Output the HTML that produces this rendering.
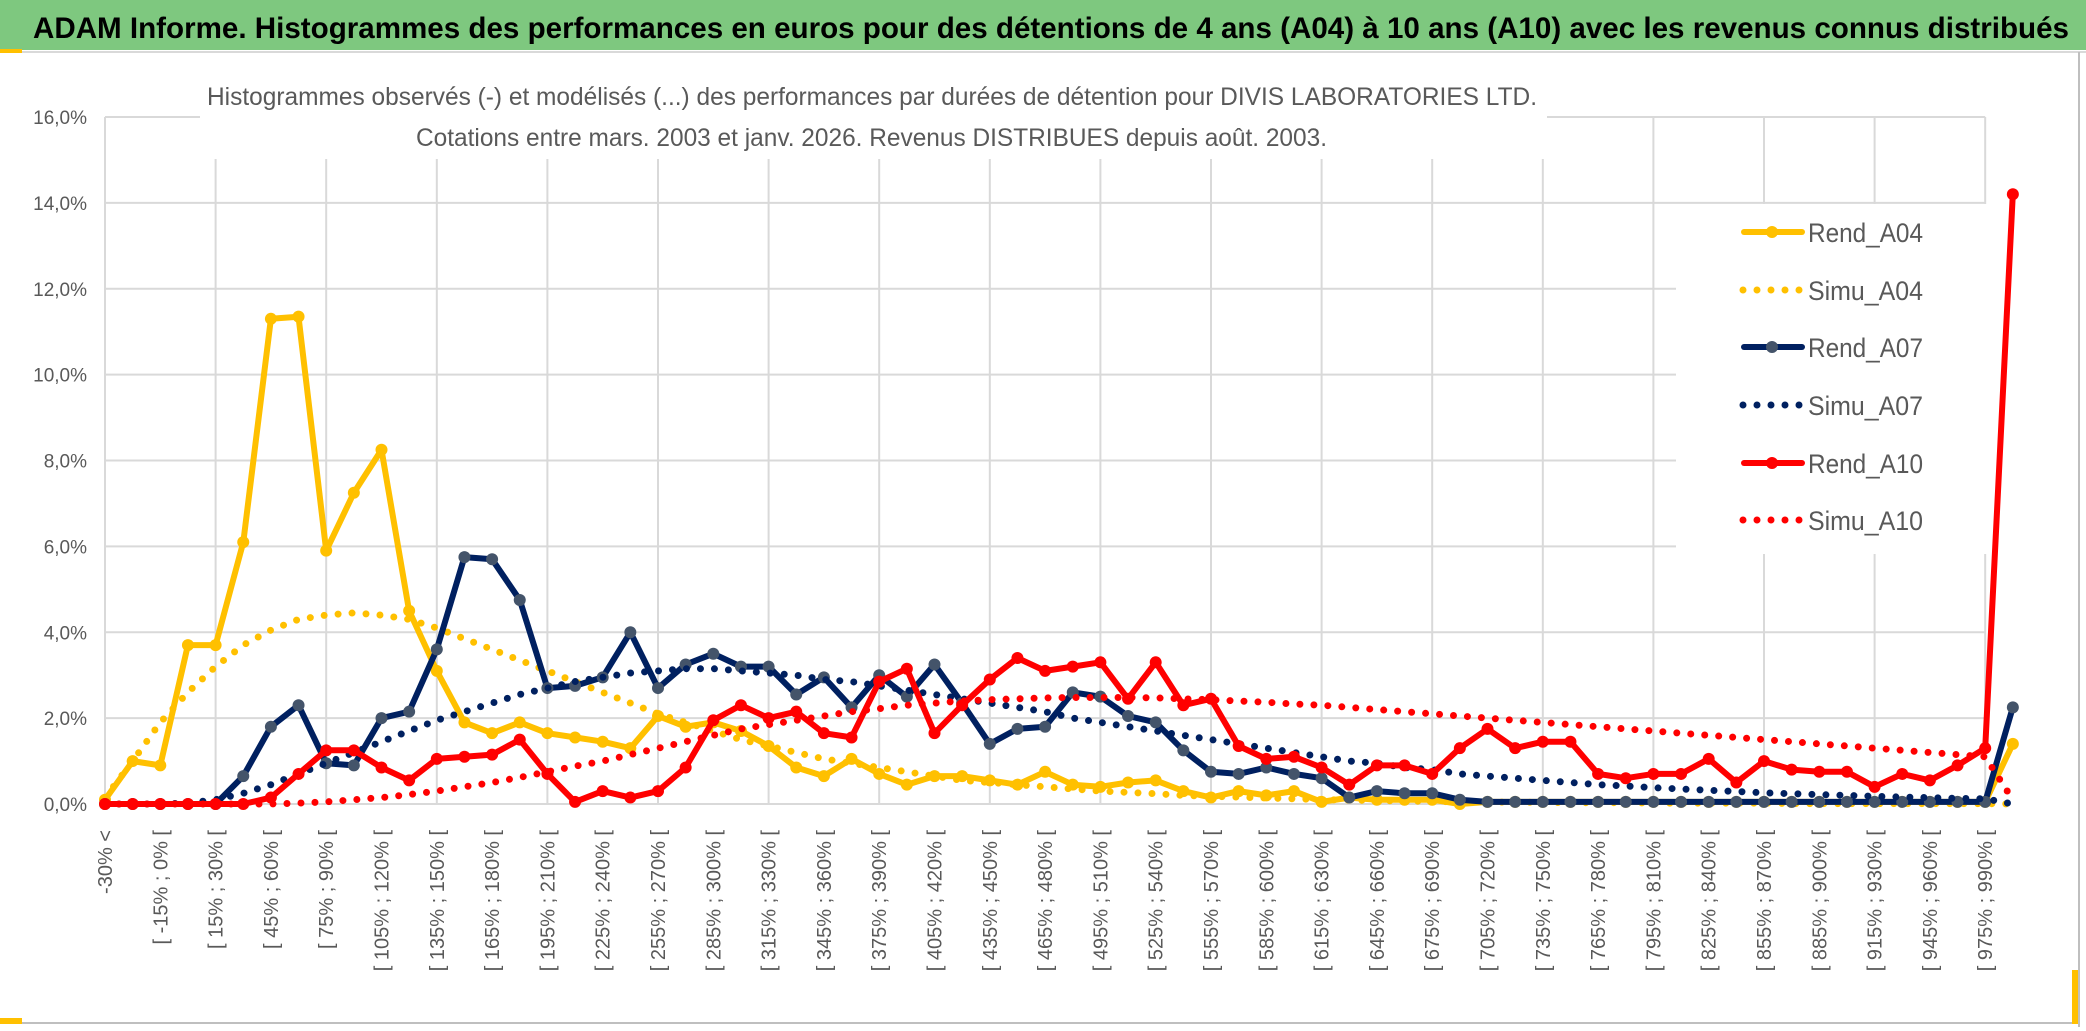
<!DOCTYPE html>
<html><head><meta charset="utf-8">
<style>
html,body{margin:0;padding:0;background:#fff;}
svg{display:block;font-family:"Liberation Sans",sans-serif;}
</style></head>
<body>
<svg id="chart" width="2086" height="1031" viewBox="0 0 2086 1031" xmlns="http://www.w3.org/2000/svg">
  <rect x="0" y="0" width="2086" height="1031" fill="#fff"/>
  <rect x="0" y="0" width="2086" height="50" fill="#7ec87f"/>
  <line x1="0" y1="52" x2="2086" y2="52" stroke="#d9d9d9" stroke-width="2"/>
  <rect x="0" y="49" width="22" height="4" fill="#ffc000"/>
  <text x="33" y="38" font-size="30" font-weight="bold" fill="#000" textLength="2036" lengthAdjust="spacingAndGlyphs">ADAM Informe. Histogrammes des performances en euros pour des détentions de 4 ans (A04) à 10 ans (A10) avec les revenus connus distribués</text>
  <rect x="2078" y="52" width="2" height="975" fill="#bfbfbf"/>
  <rect x="0" y="1022" width="2080" height="2" fill="#bfbfbf"/>
  <rect x="0" y="1018" width="22" height="6" fill="#ffc000"/>
  <rect x="2072" y="970" width="6" height="54" fill="#ffc000"/>
  <g id="grid"></g>
  <rect x="200" y="60" width="1347" height="99" fill="#fff"/>
  <text x="207" y="105" font-size="25" fill="#595959" textLength="1330" lengthAdjust="spacingAndGlyphs">Histogrammes observés (-) et modélisés (...) des performances par durées de détention pour DIVIS LABORATORIES LTD.</text>
  <text x="416" y="146" font-size="25" fill="#595959" textLength="911" lengthAdjust="spacingAndGlyphs">Cotations entre mars. 2003 et janv. 2026. Revenus DISTRIBUES depuis août. 2003.</text>
  <g id="yticks"></g>
  <g id="xticks"></g>
  <rect x="1676" y="204" width="312" height="350" fill="#fff"/>
  <g id="series"></g>
  <g id="legend"></g>
</svg>
<script>
const categories = ["-30% <","[ -30% ; -15% [","[ -15% ; 0% ["];
for (let v = 0; v <= 975; v += 15) categories.push("[ " + v + "% ; " + (v + 15) + "% [");
categories.push("990% >");
const yTicks = [0,2,4,6,8,10,12,14,16];
const yTickLabels = ["0,0%","2,0%","4,0%","6,0%","8,0%","10,0%","12,0%","14,0%","16,0%"];
const seriesNames = ["Rend_A04","Simu_A04","Rend_A07","Simu_A07","Rend_A10","Simu_A10"];
const rendA04 = [0.1,1.0,0.9,3.7,3.7,6.1,11.3,11.35,5.9,7.25,8.25,4.5,3.1,1.9,1.65,1.9,1.65,1.55,1.45,1.3,2.05,1.8,1.9,1.7,1.35,0.85,0.65,1.05,0.7,0.45,0.65,0.65,0.55,0.45,0.75,0.45,0.4,0.5,0.55,0.3,0.15,0.3,0.2,0.3,0.05,0.15,0.1,0.1,0.1,0.0,0.05,0.05,0.05,0.05,0.05,0.05,0.05,0.05,0.05,0.05,0.05,0.05,0.05,0.05,0.05,0.05,0.05,0.05,0.05,1.4];
const simuA04 = [0.15,1.0,1.9,2.6,3.2,3.7,4.05,4.3,4.4,4.45,4.4,4.3,4.1,3.85,3.6,3.35,3.1,2.85,2.6,2.35,2.1,1.9,1.7,1.5,1.35,1.2,1.05,0.95,0.85,0.75,0.65,0.55,0.5,0.45,0.4,0.35,0.3,0.27,0.24,0.2,0.18,0.16,0.14,0.12,0.1,0.09,0.08,0.07,0.06,0.05,0.05,0.04,0.04,0.03,0.03,0.03,0.02,0.02,0.02,0.02,0.02,0.01,0.01,0.01,0.01,0.01,0.01,0.01,0.01,0.0];
const rendA07 = [0,0,0,0,0,0.65,1.8,2.3,0.95,0.9,2.0,2.15,3.6,5.75,5.7,4.75,2.7,2.75,2.95,4.0,2.7,3.25,3.5,3.2,3.2,2.55,2.95,2.25,3.0,2.5,3.25,2.35,1.4,1.75,1.8,2.6,2.5,2.05,1.9,1.25,0.75,0.7,0.85,0.7,0.6,0.15,0.3,0.25,0.25,0.1,0.05,0.05,0.05,0.05,0.05,0.05,0.05,0.05,0.05,0.05,0.05,0.05,0.05,0.05,0.05,0.05,0.05,0.05,0.05,2.25];
const simuA07 = [0,0,0,0.02,0.1,0.25,0.45,0.7,0.95,1.2,1.45,1.7,1.95,2.15,2.35,2.55,2.7,2.85,2.95,3.05,3.1,3.15,3.15,3.1,3.05,3.0,2.9,2.85,2.75,2.65,2.55,2.45,2.35,2.25,2.15,2.0,1.9,1.8,1.7,1.6,1.5,1.4,1.3,1.2,1.1,1.0,0.95,0.85,0.8,0.7,0.65,0.6,0.55,0.5,0.45,0.42,0.38,0.35,0.32,0.29,0.26,0.24,0.22,0.2,0.18,0.16,0.15,0.13,0.12,0.0];
const rendA10 = [0,0,0,0,0,0,0.15,0.7,1.25,1.25,0.85,0.55,1.05,1.1,1.15,1.5,0.7,0.05,0.3,0.15,0.3,0.85,1.95,2.3,2.0,2.15,1.65,1.55,2.85,3.15,1.65,2.3,2.9,3.4,3.1,3.2,3.3,2.45,3.3,2.3,2.45,1.35,1.05,1.1,0.85,0.45,0.9,0.9,0.7,1.3,1.75,1.3,1.45,1.45,0.7,0.6,0.7,0.7,1.05,0.5,1.0,0.8,0.75,0.75,0.4,0.7,0.55,0.9,1.3,14.2];
const simuA10 = [0,0,0,0,0,0,0,0.02,0.05,0.1,0.15,0.22,0.3,0.4,0.5,0.62,0.75,0.88,1.0,1.15,1.3,1.45,1.6,1.75,1.85,1.95,2.05,2.15,2.22,2.3,2.35,2.4,2.43,2.45,2.47,2.48,2.48,2.48,2.47,2.45,2.43,2.4,2.37,2.33,2.3,2.25,2.2,2.15,2.1,2.05,2.0,1.95,1.9,1.85,1.8,1.75,1.7,1.65,1.6,1.55,1.5,1.45,1.4,1.35,1.3,1.25,1.2,1.15,1.1,0.1];

const NS = "http://www.w3.org/2000/svg";
const X0 = 105, DX = 27.65, Y0 = 804, YTOP = 117, YMAX = 16;
function xScale(i){ return X0 + i*DX; }
function yScale(v){ return Y0 - (v/YMAX)*(Y0-YTOP); }
function mk(tag, attrs, parent){ const e = document.createElementNS(NS, tag); for (const k in attrs) e.setAttribute(k, attrs[k]); parent.appendChild(e); return e; }

const grid = document.getElementById("grid");
yTicks.forEach(function(t){
  const l = mk("line", {x1: X0, x2: xScale(68), y1: yScale(t), y2: yScale(t), stroke: "#d9d9d9", "stroke-width": 2}, grid);
  
  
});
for (let i = 0; i <= 68; i += 4) {
  const l = mk("line", {x1: xScale(i), x2: xScale(i), y1: YTOP, y2: Y0, stroke: "#d9d9d9", "stroke-width": 2}, grid);
  
  
}
const yt = document.getElementById("yticks");
yTicks.forEach(function(t, k){
  const e = mk("text", {x: 87, y: yScale(t)+7, "font-size": 19, fill: "#595959", "text-anchor": "end"}, yt);
  e.textContent = yTickLabels[k];
  
  
});
const xt = document.getElementById("xticks");
for (let i = 0; i <= 68; i += 2) {
  const x = xScale(i) + 1, y = 830;
  const e = mk("text", {x: x, y: y, "font-size": 20, fill: "#595959", "text-anchor": "end", "dominant-baseline": "central", transform: "rotate(-90 " + x + " " + y + ")"}, xt);
  e.textContent = categories[i];
  
  
}

const sg = document.getElementById("series");
function drawRend(vals, color, marker, name){
  const g = mk("g", {}, sg);
  
  
  const pts = vals.map(function(v,i){ return xScale(i).toFixed(1)+","+yScale(v).toFixed(1); }).join(" ");
  mk("polyline", {points: pts, fill: "none", stroke: color, "stroke-width": 6, "stroke-linejoin": "round"}, g);
  vals.forEach(function(v,i){
    const c = mk("circle", {cx: xScale(i), cy: yScale(v), r: 6, fill: marker}, g);
    
    
  });
}
function drawSimu(vals, color, name){
  const pts = vals.map(function(v,i){ return xScale(i).toFixed(1)+","+yScale(v).toFixed(1); }).join(" ");
  const p = mk("polyline", {points: pts, fill: "none", stroke: color, "stroke-width": 7, "stroke-linecap": "round", "stroke-dasharray": "0 14"}, sg);
  
  
}
drawRend(rendA04, "#ffc000", "#ffc000", "rend-a04-line");
drawSimu(simuA04, "#ffc000", "simu-a04-line");
drawRend(rendA07, "#002060", "#44546a", "rend-a07-line");
drawSimu(simuA07, "#002060", "simu-a07-line");
drawRend(rendA10, "#ff0000", "#ff0000", "rend-a10-line");
drawSimu(simuA10, "#ff0000", "simu-a10-line");

const lg = document.getElementById("legend");
const legColors = ["#ffc000","#ffc000","#002060","#002060","#ff0000","#ff0000"];
const legMarkers = ["#ffc000",null,"#44546a",null,"#ff0000",null];
const legY = [232,290,347,405,463,520];
seriesNames.forEach(function(n, k){
  const g = mk("g", {}, lg);
  
  
  const y = legY[k];
  if (legMarkers[k]) {
    mk("line", {x1: 1744, x2: 1802, y1: y, y2: y, stroke: legColors[k], "stroke-width": 6, "stroke-linecap": "round"}, g);
    mk("circle", {cx: 1772, cy: y, r: 6, fill: legMarkers[k]}, g);
  } else {
    mk("line", {x1: 1743, x2: 1803, y1: y, y2: y, stroke: legColors[k], "stroke-width": 7, "stroke-linecap": "round", "stroke-dasharray": "0 14"}, g);
  }
  const t = mk("text", {x: 1808, y: y+10, "font-size": 27, fill: "#595959", textLength: 115, lengthAdjust: "spacingAndGlyphs"}, g);
  t.textContent = n;
});
</script>
</body></html>
